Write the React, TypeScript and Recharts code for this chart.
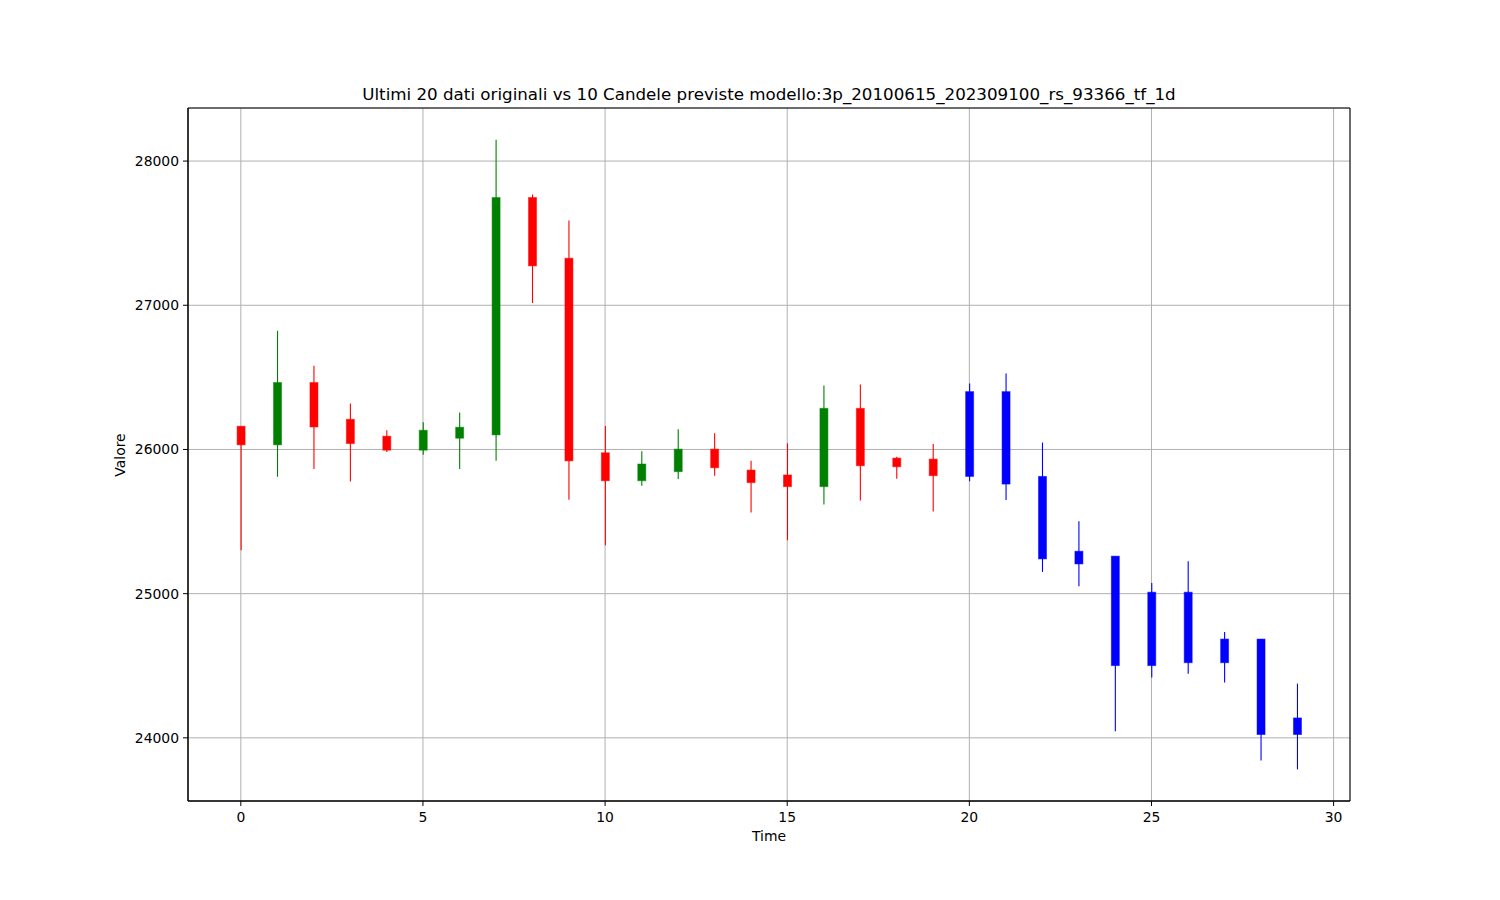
import React from 'react';
import { ComposedChart, Bar, XAxis, YAxis, CartesianGrid, ReferenceArea } from 'recharts';

const times = [0, 1, 2, 3, 4, 5, 6, 7, 8, 9, 10, 11, 12, 13, 14, 15, 16, 17, 18, 19, 20, 21, 22, 23, 24, 25, 26, 27, 28, 29];
const opens = [26161, 26032, 26464, 26209, 26092, 25995, 26078, 26101, 27747, 27326, 25977, 25783, 25846, 26002, 25857, 25823, 25742, 26285, 25940, 25933, 26401, 26401, 25813, 25294, 25260, 25010, 25010, 24685, 24685, 24138];
const closes = [26032, 26464, 26156, 26041, 25995, 26133, 26154, 27747, 27273, 25921, 25783, 25899, 26002, 25873, 25770, 25742, 26285, 25887, 25880, 25818, 25813, 25760, 25241, 25206, 24501, 24501, 24521, 24521, 24023, 24023];
const highs = [26161, 26823, 26581, 26319, 26133, 26188, 26257, 28147, 27768, 27588, 26163, 25988, 26140, 26112, 25921, 26043, 26443, 26450, 25949, 26037, 26457, 26526, 26048, 25502, 25260, 25073, 25225, 24734, 24685, 24376];
const lows = [25301, 25811, 25864, 25777, 25983, 25963, 25864, 25921, 27016, 25652, 25335, 25749, 25795, 25818, 25563, 25370, 25618, 25646, 25797, 25570, 25779, 25649, 25151, 25051, 24045, 24418, 24445, 24383, 23843, 23781];
const originalCount = 20;
const xTicks = [0, 5, 10, 15, 20, 25, 30];
const yTicks = [24000, 25000, 26000, 27000, 28000];
const xDomain = [-1.45, 30.45];
const yDomain = [23562, 28368];

const rows = times.map((t, i) => ({
  t,
  open: opens[i],
  close: closes[i],
  high: highs[i],
  low: lows[i],
  range: [lows[i], highs[i]],
  color: i >= originalCount ? '#0000ff' : closes[i] >= opens[i] ? '#008000' : '#ff0000',
}));

const Candle = (props: any) => {
  const { x, y, width, height, payload } = props;
  if (!payload || height == null) return null;
  const { high, low, open, close, color } = payload;
  const top0 = Math.min(y, y + height);
  const h = Math.abs(height);
  const k = h / (high - low);
  const yOf = (v: number) => top0 + (high - v) * k;
  const cx = x + width / 2;
  const bt = yOf(Math.max(open, close));
  const bb = yOf(Math.min(open, close));
  return (
    <g>
      <line x1={cx} x2={cx} y1={top0} y2={top0 + h} stroke={color} strokeWidth={1.1} />
      <rect x={cx - 4} y={bt} width={8} height={Math.max(bb - bt, 1)} fill={color} stroke={color} strokeOpacity={0.5} strokeWidth={1} />
    </g>
  );
};

const font = '"DejaVu Sans", sans-serif';

export default function App() {
  return (
    <div style={{ position: 'absolute', left: 0, top: 0, width: 1500, height: 900, background: '#fff', fontFamily: font }}>
      <ComposedChart
        width={1500}
        height={900}
        data={rows}
        margin={{ top: 108, right: 150, bottom: 59, left: 108 }}
      >
        <CartesianGrid stroke="#b0b0b0" strokeWidth={1} />
        <XAxis
          type="number"
          dataKey="t"
          domain={xDomain}
          ticks={xTicks}
          allowDataOverflow
          height={40}
          stroke="#000"
          tickSize={5}
          tickMargin={6}
          tick={{ fill: '#000', fontSize: 13.9, fontFamily: font }}
        />
        <YAxis
          type="number"
          domain={yDomain}
          ticks={yTicks}
          allowDataOverflow
          width={80}
          stroke="#000"
          tickSize={5}
          tickMargin={4}
          tick={{ fill: '#000', fontSize: 13.9, fontFamily: font }}
        />
        <ReferenceArea
          x1={xDomain[0]}
          x2={xDomain[1]}
          y1={yDomain[0]}
          y2={yDomain[1]}
          fill="none"
          fillOpacity={0}
          stroke="#000"
          strokeWidth={1}
          ifOverflow="visible"
        />
        <Bar dataKey="range" barSize={9} shape={<Candle />} isAnimationActive={false} />
      </ComposedChart>
      <div style={{ position: 'absolute', left: 0, width: 1538, top: 84, textAlign: 'center', fontSize: 16.7, lineHeight: '20px', color: '#000', whiteSpace: 'nowrap' }}>
        Ultimi 20 dati originali vs 10 Candele previste modello:3p_20100615_202309100_rs_93366_tf_1d
      </div>
      <div style={{ position: 'absolute', left: 0, width: 1538, top: 828, textAlign: 'center', fontSize: 13.9, lineHeight: '16px', color: '#000' }}>
        Time
      </div>
      <div style={{ position: 'absolute', left: 120, top: 455, transform: 'translate(-50%, -50%) rotate(-90deg)', fontSize: 13.9, lineHeight: '16px', color: '#000', whiteSpace: 'nowrap' }}>
        Valore
      </div>
    </div>
  );
}
